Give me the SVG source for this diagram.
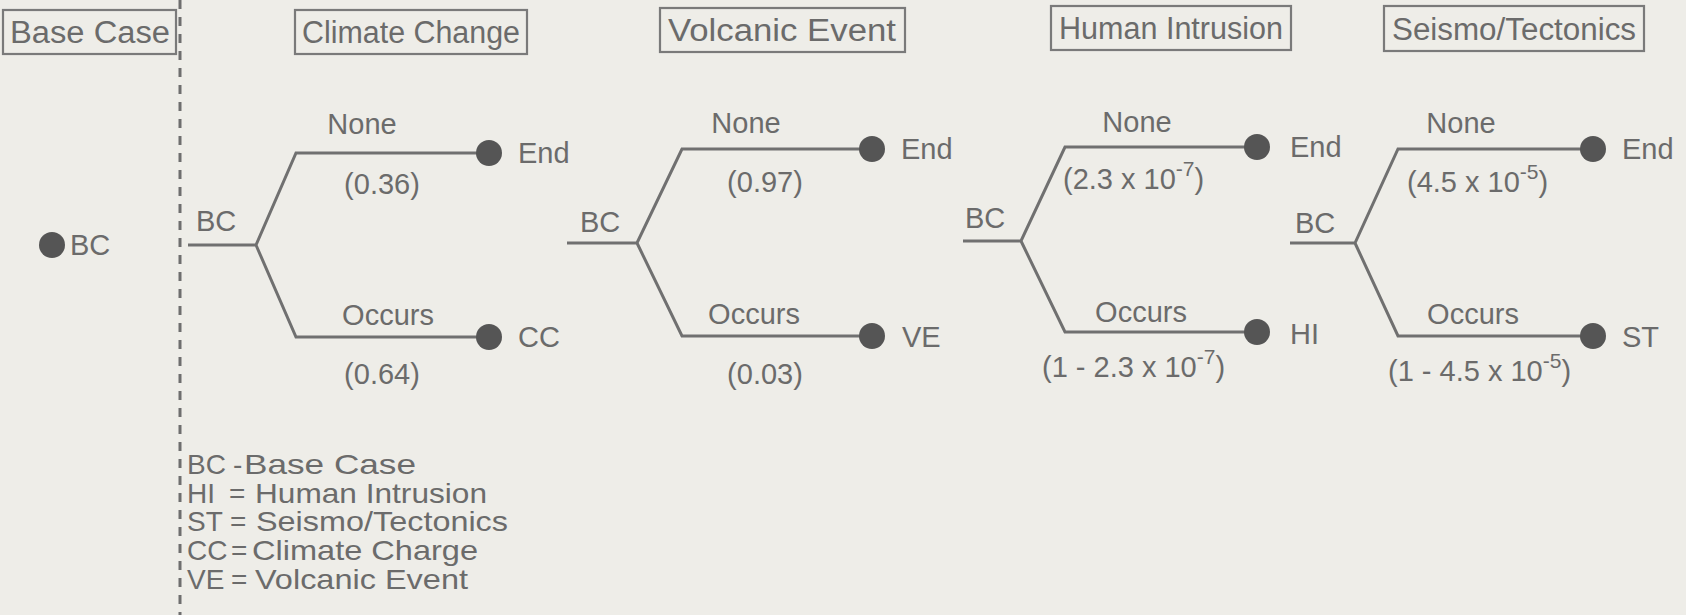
<svg xmlns="http://www.w3.org/2000/svg" width="1686" height="615" viewBox="0 0 1686 615">
<style>
text{font-family:"Liberation Sans",Arial,sans-serif;fill:#6b6b6b}
.t{font-size:31px;text-anchor:middle}
.l{font-size:29px}
.m{text-anchor:middle}
.g{font-size:28px}
.box{fill:none;stroke:#7a7a7a;stroke-width:2.2}
.br{fill:none;stroke:#707070;stroke-width:3;stroke-linejoin:miter}
.dot{fill:#555}
.sup{font-size:21px}
</style>
<rect width="1686" height="615" fill="#eeede8"/>
<line x1="180" y1="0" x2="180" y2="615" stroke="#6e6e6e" stroke-width="3" stroke-dasharray="9 8"/>
<g id="title-base"><rect class="box" x="3" y="10" width="173" height="44"/><text class="t" x="90" y="43" textLength="160" lengthAdjust="spacingAndGlyphs">Base Case</text></g>
<g id="title-cc"><rect class="box" x="295" y="10" width="232" height="44"/><text class="t" x="411" y="43" textLength="218" lengthAdjust="spacingAndGlyphs">Climate Change</text></g>
<g id="title-ve"><rect class="box" x="660" y="8" width="245" height="44"/><text class="t" x="782" y="41" textLength="228" lengthAdjust="spacingAndGlyphs">Volcanic Event</text></g>
<g id="title-hi"><rect class="box" x="1051" y="6" width="240" height="44"/><text class="t" x="1171" y="39" textLength="224" lengthAdjust="spacingAndGlyphs">Human Intrusion</text></g>
<g id="title-st"><rect class="box" x="1384" y="6" width="260" height="45"/><text class="t" x="1514" y="40" textLength="244" lengthAdjust="spacingAndGlyphs">Seismo/Tectonics</text></g>
<g id="bc-node"><circle class="dot" cx="52" cy="245" r="13"/><text class="l" x="70" y="255">BC</text></g>
<g id="connectors">
<path class="br" d="M188 245H256L296 153H489M256 245L296 337H489"/>
<path class="br" d="M567 243H637L682 149H872M637 243L682 336H872"/>
<path class="br" d="M963 241H1021L1065 147H1257M1021 241L1065 332H1257"/>
<path class="br" d="M1290 243H1355L1398 149H1593M1355 243L1398 336H1593"/>
</g>
<g id="tree-cc">
<text class="l" x="196" y="231">BC</text>
<text class="l m" x="362" y="134">None</text>
<text class="l m" x="382" y="194">(0.36)</text>
<circle class="dot" cx="489" cy="153" r="13"/><text class="l" x="518" y="163">End</text>
<text class="l m" x="388" y="325">Occurs</text>
<text class="l m" x="382" y="384">(0.64)</text>
<circle class="dot" cx="489" cy="337" r="13"/><text class="l" x="518" y="347">CC</text>
</g>
<g id="tree-ve">
<text class="l" x="580" y="232">BC</text>
<text class="l m" x="746" y="133">None</text>
<text class="l m" x="765" y="192">(0.97)</text>
<circle class="dot" cx="872" cy="149" r="13"/><text class="l" x="901" y="159">End</text>
<text class="l m" x="754" y="324">Occurs</text>
<text class="l m" x="765" y="384">(0.03)</text>
<circle class="dot" cx="872" cy="336" r="13"/><text class="l" x="902" y="347">VE</text>
</g>
<g id="tree-hi">
<text class="l" x="965" y="228">BC</text>
<text class="l m" x="1137" y="132">None</text>
<text class="l" x="1063" y="189">(2.3 x 10<tspan class="sup" dy="-13">-7</tspan><tspan dy="13">)</tspan></text>
<circle class="dot" cx="1257" cy="147" r="13"/><text class="l" x="1290" y="157">End</text>
<text class="l m" x="1141" y="322">Occurs</text>
<text class="l" x="1042" y="377">(1 - 2.3 x 10<tspan class="sup" dy="-13">-7</tspan><tspan dy="13">)</tspan></text>
<circle class="dot" cx="1257" cy="332" r="13"/><text class="l" x="1290" y="344">HI</text>
</g>
<g id="tree-st">
<text class="l" x="1295" y="233">BC</text>
<text class="l m" x="1461" y="133">None</text>
<text class="l" x="1407" y="192">(4.5 x 10<tspan class="sup" dy="-13">-5</tspan><tspan dy="13">)</tspan></text>
<circle class="dot" cx="1593" cy="149" r="13"/><text class="l" x="1622" y="159">End</text>
<text class="l m" x="1473" y="324">Occurs</text>
<text class="l" x="1388" y="381">(1 - 4.5 x 10<tspan class="sup" dy="-13">-5</tspan><tspan dy="13">)</tspan></text>
<circle class="dot" cx="1593" cy="336" r="13"/><text class="l" x="1622" y="347">ST</text>
</g>
<g id="legend">
<text class="g" x="187" y="474">BC</text><text class="g" x="233" y="474">-</text><text class="g" x="244" y="474" textLength="172" lengthAdjust="spacingAndGlyphs">Base Case</text>
<text class="g" x="187" y="503">HI</text><text class="g" x="229" y="503">=</text><text class="g" x="255" y="503" textLength="232" lengthAdjust="spacingAndGlyphs">Human Intrusion</text>
<text class="g" x="187" y="531">ST</text><text class="g" x="230" y="531">=</text><text class="g" x="256" y="531" textLength="252" lengthAdjust="spacingAndGlyphs">Seismo/Tectonics</text>
<text class="g" x="187" y="560">CC</text><text class="g" x="231" y="560">=</text><text class="g" x="252" y="560" textLength="226" lengthAdjust="spacingAndGlyphs">Climate Charge</text>
<text class="g" x="187" y="589">VE</text><text class="g" x="231" y="589">=</text><text class="g" x="255" y="589" textLength="213" lengthAdjust="spacingAndGlyphs">Volcanic Event</text>
</g>
</svg>
